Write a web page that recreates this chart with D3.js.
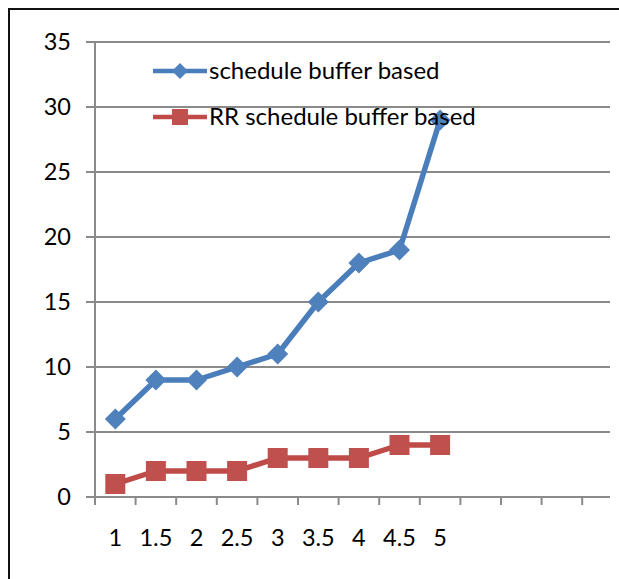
<!DOCTYPE html>
<html>
<head>
<meta charset="utf-8">
<script src="https://cdn.jsdelivr.net/npm/d3@7"></script>
<style>
  html, body { margin: 0; padding: 0; background: #fff; }
  svg { display: block; }
  text { font-family: Lato, "Open Sans", sans-serif; fill: #000; }
</style>
</head>
<body>
<svg width="619" height="579"></svg>
<script>

// chart data
const categories = ["1", "1.5", "2", "2.5", "3", "3.5", "4", "4.5", "5"];
const emptySlots = 3;  // blank categories on the right of the axis
const scheduleBuffer = [6, 9, 9, 10, 11, 15, 18, 19, 29];
const rrScheduleBuffer = [1, 2, 2, 2, 3, 3, 3, 4, 4];
const yTicks = [0, 5, 10, 15, 20, 25, 30, 35];
const seriesNames = ["schedule buffer based", "RR schedule buffer based"];

const blue = "#4a7ebb", blueFill = "#4f81bd";
const red = "#be4b48", redFill = "#c0504d";
const gridColor = "#8a8a8a";

const svg = d3.select("svg");

const plotLeft = 95, plotTop = 42, plotBottom = 497,
      bandW = 40.6, axisEnd = 610;

const slots = d3.range(categories.length + emptySlots);
const x = d3.scaleBand()
    .domain(slots)
    .range([plotLeft, plotLeft + bandW * slots.length]);
const y = d3.scaleLinear()
    .domain([0, 35])
    .range([plotBottom, plotTop]);

// outer frame (cropped on right and bottom)
svg.append("path")
    .attr("d", "M9,579 V9 H619")
    .attr("fill", "none")
    .attr("stroke", "#111")
    .attr("stroke-width", 2);

/************************************************/
/* Grid and axes                                */
/************************************************/

const grid = svg.append("g");
grid.selectAll("line.grid").data(yTicks).enter().append("line")
    .attr("class", "grid")
    .attr("x1", plotLeft - 9)
    .attr("x2", axisEnd)
    .attr("y1", d => y(d))
    .attr("y2", d => y(d))
    .attr("stroke", gridColor)
    .attr("stroke-width", 2);

// y axis line
grid.append("line")
    .attr("x1", plotLeft).attr("x2", plotLeft)
    .attr("y1", y(35)).attr("y2", plotBottom + 8)
    .attr("stroke", gridColor)
    .attr("stroke-width", 2);

// x ticks at band edges
grid.selectAll("line.xtick").data(slots.concat([slots.length])).enter().append("line")
    .attr("class", "xtick")
    .attr("x1", d => plotLeft + d * x.step())
    .attr("x2", d => plotLeft + d * x.step())
    .attr("y1", plotBottom)
    .attr("y2", plotBottom + 8)
    .attr("stroke", gridColor)
    .attr("stroke-width", 2)
    .filter(d => plotLeft + d * x.step() > axisEnd).remove();

svg.selectAll("text.ylab").data(yTicks).enter().append("text")
    .attr("class", "ylab")
    .attr("x", 71)
    .attr("y", d => y(d))
    .attr("dy", "0.36em")
    .attr("text-anchor", "end")
    .style("font-size", "23.5px")
    .text(d => d);

svg.selectAll("text.xlab").data(categories).enter().append("text")
    .attr("class", "xlab")
    .attr("x", (d, i) => x(i) + x.bandwidth() / 2)
    .attr("y", 538)
    .attr("dy", "0.36em")
    .attr("text-anchor", "middle")
    .style("font-size", "23.5px")
    .text(d => d);

/************************************************/
/* Series                                       */
/************************************************/

const line = d3.line()
    .x((d, i) => x(i) + x.bandwidth() / 2)
    .y(d => y(d));

function diamond(sel, r, fill) {
    sel.append("path")
        .attr("d", `M0,${-r} L${r},0 L0,${r} L${-r},0 Z`)
        .attr("fill", fill);
}

function square(sel, s, fill) {
    sel.append("rect")
        .attr("x", -s / 2).attr("y", -s / 2)
        .attr("width", s).attr("height", s)
        .attr("fill", fill);
}

svg.append("path")
    .datum(rrScheduleBuffer)
    .attr("d", line)
    .attr("fill", "none")
    .attr("stroke", red)
    .attr("stroke-width", 5.5)
    .attr("stroke-linejoin", "round");

svg.selectAll("g.rr").data(rrScheduleBuffer).enter().append("g")
    .attr("class", "rr")
    .attr("transform", (d, i) => `translate(${x(i) + x.bandwidth() / 2},${y(d)})`)
    .call(square, 20, redFill);

svg.append("path")
    .datum(scheduleBuffer)
    .attr("d", line)
    .attr("fill", "none")
    .attr("stroke", blue)
    .attr("stroke-width", 5.5)
    .attr("stroke-linejoin", "round");

svg.selectAll("g.sb").data(scheduleBuffer).enter().append("g")
    .attr("class", "sb")
    .attr("transform", (d, i) => `translate(${x(i) + x.bandwidth() / 2},${y(d)})`)
    .call(diamond, 10.5, blueFill);

/************************************************/
/* Legend                                       */
/************************************************/

const legend = svg.append("g");
const legendRows = [
    {name: seriesNames[0], color: blue, fill: blueFill, mark: "diamond", y: 71},
    {name: seriesNames[1], color: red, fill: redFill, mark: "square", y: 117}
];

legendRows.forEach(row => {
    const g = legend.append("g").attr("transform", `translate(0,${row.y})`);
    g.append("line")
        .attr("x1", 153).attr("x2", 207)
        .attr("stroke", row.color)
        .attr("stroke-width", 4.5);
    const m = g.append("g").attr("transform", "translate(180,0)");
    if (row.mark === "diamond") diamond(m, 8, row.fill);
    else square(m, 16, row.fill);
    g.append("text")
        .attr("x", 209)
        .attr("dy", "0.34em")
        .style("font-size", "24px")
        .text(row.name);
});

</script>
</body>
</html>
